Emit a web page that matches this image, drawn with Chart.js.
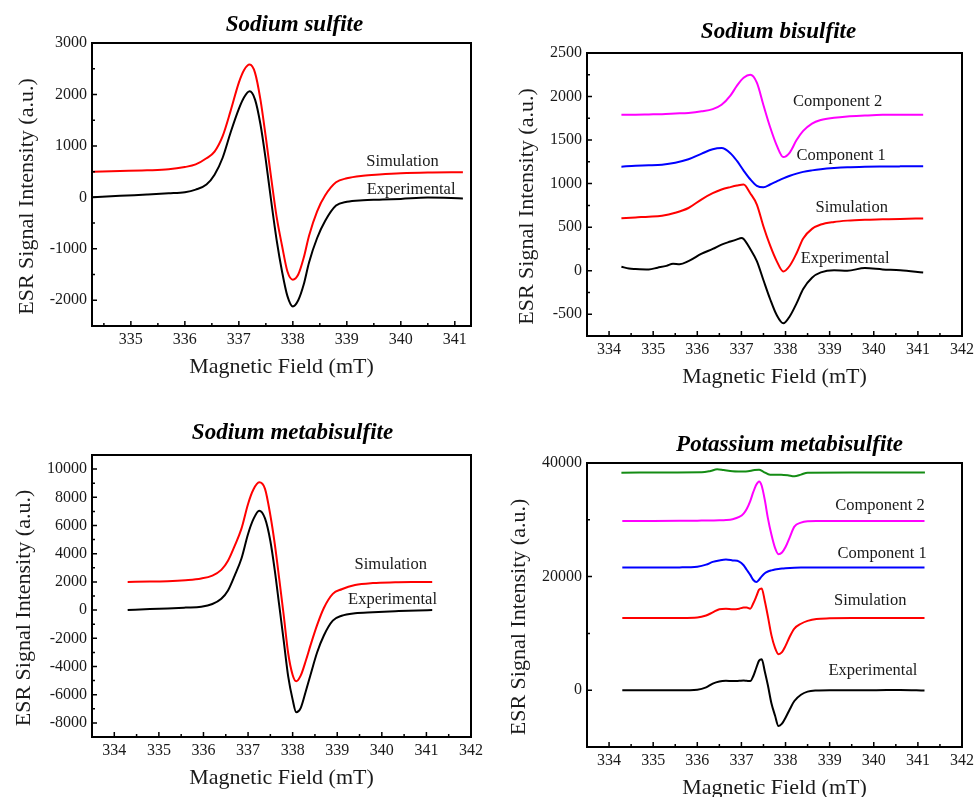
<!DOCTYPE html>
<html>
<head>
<meta charset="utf-8">
<script src="https://cdn.jsdelivr.net/npm/chart.js@4.4.1/dist/chart.umd.min.js"></script>
<style>
html,body{margin:0;padding:0;background:#fff;}
body{width:978px;height:797px;position:relative;overflow:hidden;}
.p{position:absolute;}
canvas{display:block;}
</style>
</head>
<body>
<div class="p" style="left:0;top:0;"><canvas id="c1" width="489" height="398"></canvas></div>
<div class="p" style="left:489px;top:0;"><canvas id="c2" width="489" height="398"></canvas></div>
<div class="p" style="left:0;top:398px;"><canvas id="c3" width="489" height="399"></canvas></div>
<div class="p" style="left:489px;top:398px;"><canvas id="c4" width="489" height="399"></canvas></div>
<script>
// ---------------- DATA ----------------
// Tick labels
const X_TICKS_SULFITE = [335,336,337,338,339,340,341];
const X_TICKS = [334,335,336,337,338,339,340,341,342];
const Y_TICKS_SULFITE = [-2000,-1000,0,1000,2000,3000];
const Y_TICKS_BISULFITE = [-500,0,500,1000,1500,2000,2500];
const Y_TICKS_METABI = [-8000,-6000,-4000,-2000,0,2000,4000,6000,8000,10000];
const Y_TICKS_POT = [0,20000,40000];

// Panel 1: Sodium sulfite
const SULFITE_X = [334.3,334.8,335.3,335.7,336.0,336.2,336.4,336.55,336.7,336.85,337.0,337.1,337.2,337.3,337.4,337.5,337.6,337.7,337.8,337.9,338.0,338.1,338.2,338.3,338.45,338.6,338.8,339.0,339.3,339.6,340.0,340.5,341.15];
const SULFITE_EXP = [0,30,55,78,100,150,250,440,770,1270,1720,1950,2060,1900,1420,720,-80,-830,-1440,-1920,-2120,-2000,-1700,-1265,-790,-455,-160,-85,-55,-45,-30,-5,-20];
const SULFITE_SIM = [500,510,525,545,590,640,760,890,1190,1690,2230,2480,2580,2420,1900,1165,370,-380,-940,-1440,-1600,-1500,-1180,-745,-270,40,293,370,420,445,470,485,490];

// Panel 2: Sodium bisulfite
const BISULFITE_X = [334.28,334.6,334.9,335.2,335.5,335.8,336.1,336.35,336.55,336.75,336.9,337.05,337.2,337.35,337.5,337.65,337.8,337.95,338.1,338.25,338.4,338.6,338.8,339.1,339.4,339.8,340.2,340.6,341.12];
const BISULFITE_C2 = [1790,1792,1795,1798,1805,1812,1830,1855,1905,2010,2125,2215,2250,2160,1900,1650,1440,1305,1360,1500,1605,1690,1730,1757,1772,1782,1790,1792,1792];
const BISULFITE_C1 = [1195,1205,1210,1218,1240,1280,1345,1395,1408,1350,1260,1150,1050,975,958,990,1025,1060,1090,1115,1135,1152,1165,1178,1187,1193,1196,1198,1200];
const BISULFITE_SIM = [602,612,620,632,665,720,820,890,932,960,978,990,890,760,508,290,110,-10,60,200,370,480,530,560,575,585,590,595,600];
const BISULFITE_EXP_X = [334.28,334.45,334.6,334.9,335.1,335.3,335.45,335.6,335.8,336.1,336.35,336.55,336.75,336.9,337.0,337.05,337.2,337.35,337.5,337.65,337.8,337.95,338.1,338.25,338.4,338.6,338.8,339.1,339.4,339.8,340.2,340.6,341.12];
const BISULFITE_EXP = [46,25,20,15,35,55,80,75,110,195,250,300,335,360,375,365,250,110,-110,-325,-510,-605,-520,-375,-210,-80,-20,5,0,30,15,5,-20];

// Panel 3: Sodium metabisulfite
const METABI_X = [334.3,334.8,335.2,335.6,335.95,336.2,336.4,336.55,336.7,336.85,337.0,337.12,337.25,337.38,337.5,337.6,337.7,337.8,337.9,338.0,338.08,338.18,338.3,338.4,338.55,338.7,338.9,339.1,339.4,339.8,340.3,340.8,341.13];
const METABI_EXP = [0,80,120,180,240,430,800,1390,2450,3640,5400,6450,7050,6500,4900,2800,310,-2180,-4700,-6350,-7250,-6950,-5700,-4600,-2990,-1800,-750,-400,-220,-150,-80,-20,0];
const METABI_SIM = [2000,2030,2050,2120,2240,2450,2850,3500,4560,5760,7530,8550,9060,8600,6730,4670,2190,-370,-3060,-4600,-5050,-4650,-3540,-2500,-1050,150,1150,1480,1780,1920,1970,1990,2000];

// Panel 4: Potassium metabisulfite
const POT_X = [334.3,335.0,335.6,336.0,336.2,336.35,336.5,336.65,336.8,336.95,337.05,337.12,337.2,337.27,337.34,337.4,337.46,337.53,337.6,337.68,337.76,337.84,337.92,338.0,338.1,338.2,338.35,338.5,338.7,339.0,339.5,340.0,340.6,341.15];
const POT_C2 = [29800,29800,29820,29850,29870,29880,29900,29950,30100,30500,31100,31900,33300,34900,36200,36750,36000,33500,30300,27400,25100,23950,24250,25200,27000,28800,29500,29750,29800,29800,29800,29800,29800,29800];
const POT_C1 = [21600,21600,21620,21750,22100,22590,22850,23000,22850,22650,22000,21200,20300,19400,19050,19450,20050,20600,20900,21100,21250,21350,21420,21470,21520,21560,21590,21600,21600,21600,21600,21600,21600,21600];
const POT_SIM = [12700,12700,12720,12800,13150,13700,14250,14350,14250,14350,14550,14550,14350,15300,16550,17700,17900,15700,13000,9700,7500,6350,6700,7800,9500,10850,11700,12200,12550,12650,12700,12700,12700,12700];
const POT_EXP = [0,0,0,100,500,1170,1550,1650,1600,1650,1700,1650,1600,2500,4000,5200,5450,3300,860,-2300,-4400,-6300,-5900,-4850,-3300,-1900,-800,-250,-50,0,0,0,50,-50];
const POT_DIFF_X = [334.28,335.5,336.1,336.3,336.45,336.6,336.8,337.1,337.3,337.4,337.5,337.65,337.9,338.05,338.2,338.35,338.5,339.5,340.5,341.16];
const POT_DIFF = [38300,38330,38350,38600,38900,38750,38550,38500,38750,38800,38450,37950,37950,37850,37650,37950,38300,38330,38320,38340];

// Titles / labels
const TITLES = ['Sodium sulfite','Sodium bisulfite','Sodium metabisulfite','Potassium metabisulfite'];
const X_TITLE = 'Magnetic Field (mT)';
const Y_TITLE = 'ESR Signal Intensity (a.u.)';

// ---------------- RENDERING ----------------
const FONT = '"Liberation Serif", "Times New Roman", serif';
const RED = '#ff0000', BLACK = '#000000', MAGENTA = '#ff00ff', BLUE = '#0000ff', GREEN = '#148c14';

function series(xs, ys, color){
  return {data: xs.map((x,i)=>({x:x, y:ys[i]})), borderColor: color, backgroundColor: color,
          borderWidth: 2, pointRadius: 0, fill: false, cubicInterpolationMode: 'monotone'};
}

function makePanel(id, cfg){
  const canvas = document.getElementById(id);
  const W = canvas.width, H = canvas.height, A = cfg.area;
  const deco = {
    id: 'deco',
    afterDraw(chart){
      const ctx = chart.ctx, a = chart.chartArea, x = chart.scales.x, y = chart.scales.y;
      ctx.save();
      // tick marks (inward, bottom & left)
      ctx.strokeStyle = '#000'; ctx.lineWidth = 1.5;
      ctx.beginPath();
      const xs0 = Math.ceil(x.min*2 - 1e-9), xs1 = Math.floor(x.max*2 + 1e-9);
      for (let k = xs0; k <= xs1; k++){
        const px = x.getPixelForValue(k/2);
        const len = (Math.abs(k)%2===0) ? 5 : 3;
        ctx.moveTo(px, a.bottom); ctx.lineTo(px, a.bottom - len);
      }
      const half = cfg.yStep/2;
      const ys0 = Math.ceil(y.min/half - 1e-9), ys1 = Math.floor(y.max/half + 1e-9);
      for (let k = ys0; k <= ys1; k++){
        const py = y.getPixelForValue(k*half);
        const len = (Math.abs(k)%2===0) ? 5 : 3;
        ctx.moveTo(a.left, py); ctx.lineTo(a.left + len, py);
      }
      ctx.stroke();
      // frame
      ctx.lineWidth = 2;
      ctx.strokeRect(a.left, a.top, a.right - a.left, a.bottom - a.top);
      // curve labels
      ctx.fillStyle = '#1a1a1a';
      ctx.font = '16.5px ' + FONT;
      ctx.textAlign = 'center'; ctx.textBaseline = 'middle';
      cfg.labels.forEach(l => ctx.fillText(l.text, x.getPixelForValue(l.x), y.getPixelForValue(l.y)));
      // title
      ctx.fillStyle = '#000';
      ctx.font = 'italic bold 23px ' + FONT;
      ctx.fillText(cfg.title, (a.left + a.right)/2 + cfg.titleDx, a.top + cfg.titleDy);
      // axis titles
      ctx.fillStyle = '#1a1a1a';
      ctx.font = '22px ' + FONT;
      ctx.fillText(X_TITLE, (a.left + a.right)/2, a.bottom + 41);
      ctx.save();
      ctx.translate(a.left - cfg.yTitleOff, (a.top + a.bottom)/2 + 12);
      ctx.rotate(-Math.PI/2);
      ctx.fillText(Y_TITLE, 0, 0);
      ctx.restore();
      ctx.restore();
    }
  };
  const tickFont = {family: FONT, size: 16};
  return new Chart(canvas, {
    type: 'line',
    data: {datasets: cfg.datasets},
    options: {
      responsive: false, animation: false, devicePixelRatio: 1,
      layout: {padding: {left: 0, top: A.top, right: W - A.right, bottom: 0}},
      plugins: {legend: {display: false}, tooltip: {enabled: false}, title: {display: false}},
      scales: {
        x: {type: 'linear', min: cfg.xMin, max: cfg.xMax,
            ticks: {padding: 4, font: tickFont, color: '#1a1a1a',
                    maxRotation: 0, minRotation: 0, autoSkip: false, callback: v => String(v)},
            afterBuildTicks: s => { s.ticks = cfg.xTicks.map(v => ({value: v})); },
            grid: {display: false, drawTicks: false}, border: {display: false},
            afterFit: s => { s.height = H - A.bottom; }},
        y: {type: 'linear', min: cfg.yMin, max: cfg.yMax,
            ticks: {padding: 5, font: tickFont, color: '#1a1a1a',
                    autoSkip: false, callback: v => String(v)},
            afterBuildTicks: s => { s.ticks = cfg.yTicks.map(v => ({value: v})); },
            grid: {display: false, drawTicks: false}, border: {display: false},
            afterFit: s => { s.width = A.left; }}
      }
    },
    plugins: [deco]
  });
}

makePanel('c1', {
  area: {left: 92, top: 43, right: 471, bottom: 326},
  xMin: 334.28, xMax: 341.3, yMin: -2500, yMax: 3000, yStep: 1000,
  xTicks: X_TICKS_SULFITE, yTicks: Y_TICKS_SULFITE,
  title: TITLES[0], titleDx: 13, titleDy: -18, yTitleOff: 65,
  datasets: [series(SULFITE_X, SULFITE_EXP, BLACK), series(SULFITE_X, SULFITE_SIM, RED)],
  labels: [{text: 'Simulation', x: 340.03, y: 686}, {text: 'Experimental', x: 340.19, y: 142}]
});

makePanel('c2', {
  area: {left: 98, top: 53, right: 476, bottom: 336},
  xMin: 333.5, xMax: 342, yMin: -750, yMax: 2500, yStep: 500,
  xTicks: X_TICKS, yTicks: Y_TICKS_BISULFITE,
  title: TITLES[1], titleDx: 4, titleDy: -21, yTitleOff: 60,
  datasets: [series(BISULFITE_EXP_X, BISULFITE_EXP, BLACK), series(BISULFITE_X, BISULFITE_SIM, RED),
             series(BISULFITE_X, BISULFITE_C1, BLUE), series(BISULFITE_X, BISULFITE_C2, MAGENTA)],
  labels: [{text: 'Component 2', x: 339.18, y: 1942}, {text: 'Component 1', x: 339.26, y: 1321},
           {text: 'Simulation', x: 339.5, y: 722}, {text: 'Experimental', x: 339.35, y: 135}]
});

makePanel('c3', {
  area: {left: 92, top: 57, right: 471, bottom: 339},
  xMin: 333.5, xMax: 342, yMin: -9000, yMax: 11000, yStep: 2000,
  xTicks: X_TICKS, yTicks: Y_TICKS_METABI,
  title: TITLES[2], titleDx: 11, titleDy: -22, yTitleOff: 68,
  datasets: [series(METABI_X, METABI_EXP, BLACK), series(METABI_X, METABI_SIM, RED)],
  labels: [{text: 'Simulation', x: 340.2, y: 3226}, {text: 'Experimental', x: 340.24, y: 706}]
});

makePanel('c4', {
  area: {left: 98, top: 65, right: 476, bottom: 349},
  xMin: 333.5, xMax: 342, yMin: -10000, yMax: 40000, yStep: 20000,
  xTicks: X_TICKS, yTicks: Y_TICKS_POT,
  title: TITLES[3], titleDx: 15, titleDy: -18, yTitleOff: 68,
  datasets: [series(POT_X, POT_EXP, BLACK), series(POT_X, POT_SIM, RED), series(POT_X, POT_C1, BLUE),
             series(POT_X, POT_C2, MAGENTA), series(POT_DIFF_X, POT_DIFF, GREEN)],
  labels: [{text: 'Component 2', x: 340.14, y: 32440}, {text: 'Component 1', x: 340.19, y: 24120},
           {text: 'Simulation', x: 339.92, y: 15800}, {text: 'Experimental', x: 339.98, y: 3420}]
});
</script>
</body>
</html>
